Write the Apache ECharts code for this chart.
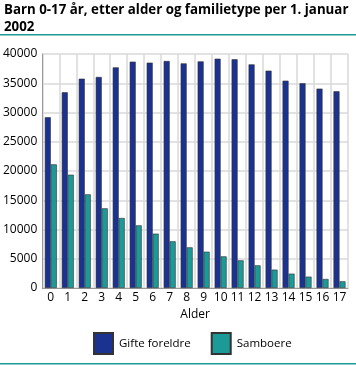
<!DOCTYPE html>
<html><head><meta charset="utf-8">
<script src="https://cdn.jsdelivr.net/npm/echarts@6/dist/echarts.min.js"></script>
<style>html,body{margin:0;padding:0;background:#fff}#c{width:356px;height:365px}</style>
</head><body><div id="c"></div>
<script>
const categories = ['0','1','2','3','4','5','6','7','8','9','10','11','12','13','14','15','16','17'];
const gifte = [29200,33450,35780,36070,37720,38690,38520,38800,38400,38740,39200,39090,38230,37150,35440,34990,34080,33620];
const samboere = [21140,19370,16010,13620,11970,10710,9290,7980,6950,6210,5410,4730,3870,3140,2450,1940,1540,1140];
const yTicks = [0,5000,10000,15000,20000,25000,30000,35000,40000];
const seriesNames = ['Gifte foreldre','Samboere'];
const titleText = 'Barn 0-17 år, etter alder og familietype per 1. januar\n2002';
const xName = 'Alder';

const chart = echarts.init(document.getElementById('c'));
const font = 'Open Sans';
chart.setOption({
  animation:false,
  title:{text:titleText,left:4,top:2,padding:0,textStyle:{fontFamily:'Open Sans',fontSize:13.3,fontWeight:'bold',color:'#000',lineHeight:16.5}},
  graphic:[
    {type:'rect',shape:{x:0,y:34,width:356,height:1.5},style:{fill:'#1a9a97'}},
    {type:'rect',shape:{x:0,y:363,width:356,height:1.5},style:{fill:'#1a9a97'}}
  ],
  legend:{left:93,top:332,padding:0,itemWidth:19,itemHeight:21,itemGap:20,
    textStyle:{fontFamily:font,fontSize:11.5,color:'#000',padding:[0,0,0,1]},
    data:seriesNames.map(n=>({name:n,icon:'rect'}))},
  grid:{left:41,right:8,top:54,bottom:77},
  xAxis:{type:'category',data:categories,name:xName,nameLocation:'middle',nameGap:21,
    nameTextStyle:{fontFamily:font,fontSize:12,color:'#000'},
    axisLine:{lineStyle:{color:'#999'}},axisTick:{show:false},
    axisLabel:{fontFamily:font,fontSize:12,color:'#000',margin:4,interval:0},
    splitLine:{show:true,lineStyle:{color:'#d9d9d9',width:1.5}}},
  yAxis:{type:'value',min:0,max:40000,interval:5000,
    axisLine:{show:true,lineStyle:{color:'#999'}},axisTick:{show:false},
    axisLabel:{fontFamily:font,fontSize:12,color:'#000',margin:5,
      formatter:v=>yTicks.includes(v)?String(v):''},
    splitLine:{lineStyle:{color:'#d9d9d9',width:1.5}}},
  series:[
    {name:seriesNames[0],type:'bar',data:gifte,barWidth:6,barGap:'0%',
      itemStyle:{color:'#1b3291',borderColor:'#333',borderWidth:0.6}},
    {name:seriesNames[1],type:'bar',data:samboere,barWidth:6,
      itemStyle:{color:'#1c9a98',borderColor:'#333',borderWidth:0.6}}
  ]
});
</script></body></html>
